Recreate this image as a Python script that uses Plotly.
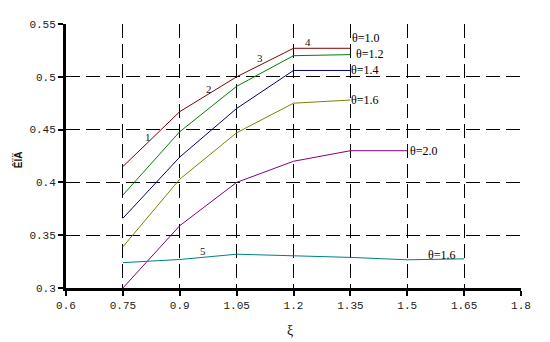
import plotly.graph_objects as go

xi = [0.75, 0.9, 1.05, 1.2, 1.35, 1.5, 1.65]

theta10 = [0.415, 0.467, 0.500, 0.527, 0.527]
theta12 = [0.388, 0.448, 0.491, 0.520, 0.521]
theta14 = [0.366, 0.424, 0.470, 0.506, 0.506]
theta16 = [0.339, 0.403, 0.447, 0.475, 0.478]
theta20 = [0.300, 0.359, 0.400, 0.420, 0.430, 0.430]
curve5 = [0.324, 0.327, 0.332, 0.3305, 0.329, 0.3267, 0.3276]

series = [
    (theta10, "#800000", "θ=1.0", 1, 10),
    (theta12, "#008000", "θ=1.2", 5, 1),
    (theta14, "#000080", "θ=1.4", 0, 0),
    (theta16, "#808000", "θ=1.6", 0, 0),
    (theta20, "#800080", "θ=2.0", 2, 0),
    (curve5, "#008080", "θ=1.6", -37, 4),
]

num_labels = ["1", "2", "3", "4", "5"]
num_x = [0.816, 0.976, 1.111, 1.239, 0.960]
num_y = [0.443, 0.488, 0.518, 0.533, 0.3355]

x_ticks = [0.6, 0.75, 0.9, 1.05, 1.2, 1.35, 1.5, 1.65, 1.8]
y_ticks = [0.3, 0.35, 0.4, 0.45, 0.5, 0.55]

fig = go.Figure()
annotations = []
for vals, color, label, dx, dy in series:
    xs = xi[:len(vals)]
    fig.add_trace(go.Scatter(x=xs, y=vals, mode="lines",
                             line=dict(color=color, width=1), showlegend=False))
    annotations.append(dict(x=xs[-1], y=vals[-1], text=label, showarrow=False,
                            xanchor="left", yanchor="middle", xshift=dx, yshift=dy,
                            borderpad=0,
                            font=dict(family="Liberation Serif", size=12, color="#000")))

for t, x, y in zip(num_labels, num_x, num_y):
    annotations.append(dict(x=x, y=y, text=t, showarrow=False,
                            font=dict(family="Liberation Serif", size=11, color="#222")))

annotations.append(dict(xref="paper", yref="y", x=-56/455, y=0.421, text="<b>ÊÏÄ</b>",
                        textangle=-90, showarrow=False,
                        font=dict(family="Liberation Sans", size=10, color="#111")))
annotations.append(dict(xref="x", yref="paper", x=1.19, y=-42/264, text="ξ",
                        showarrow=False, yanchor="middle",
                        font=dict(family="Liberation Serif", size=14, color="#111")))

axis_common = dict(showline=True, linecolor="black", linewidth=3,
                   ticks="outside", ticklen=5, tickwidth=2, tickcolor="black",
                   showgrid=True, gridcolor="black", gridwidth=1, griddash="14px,6px",
                   zeroline=False,
                   tickfont=dict(family="Liberation Mono", size=11, color="#222"))

fig.update_xaxes(range=[0.6, 1.8], tickvals=x_ticks,
                 ticktext=["0.6", "0.75", "0.9", "1.05", "1.2", "1.35", "1.5", "1.65", "1.8"],
                 **axis_common)
fig.update_yaxes(range=[0.3, 0.55], tickvals=y_ticks,
                 ticktext=["0.3", "0.35", "0.4", "0.45", "0.5", "0.55"],
                 **axis_common)

fig.update_layout(width=550, height=342, margin=dict(l=66, r=29, t=24, b=54),
                  plot_bgcolor="white", paper_bgcolor="white",
                  annotations=annotations, showlegend=False)

fig.write_html("out.html")
